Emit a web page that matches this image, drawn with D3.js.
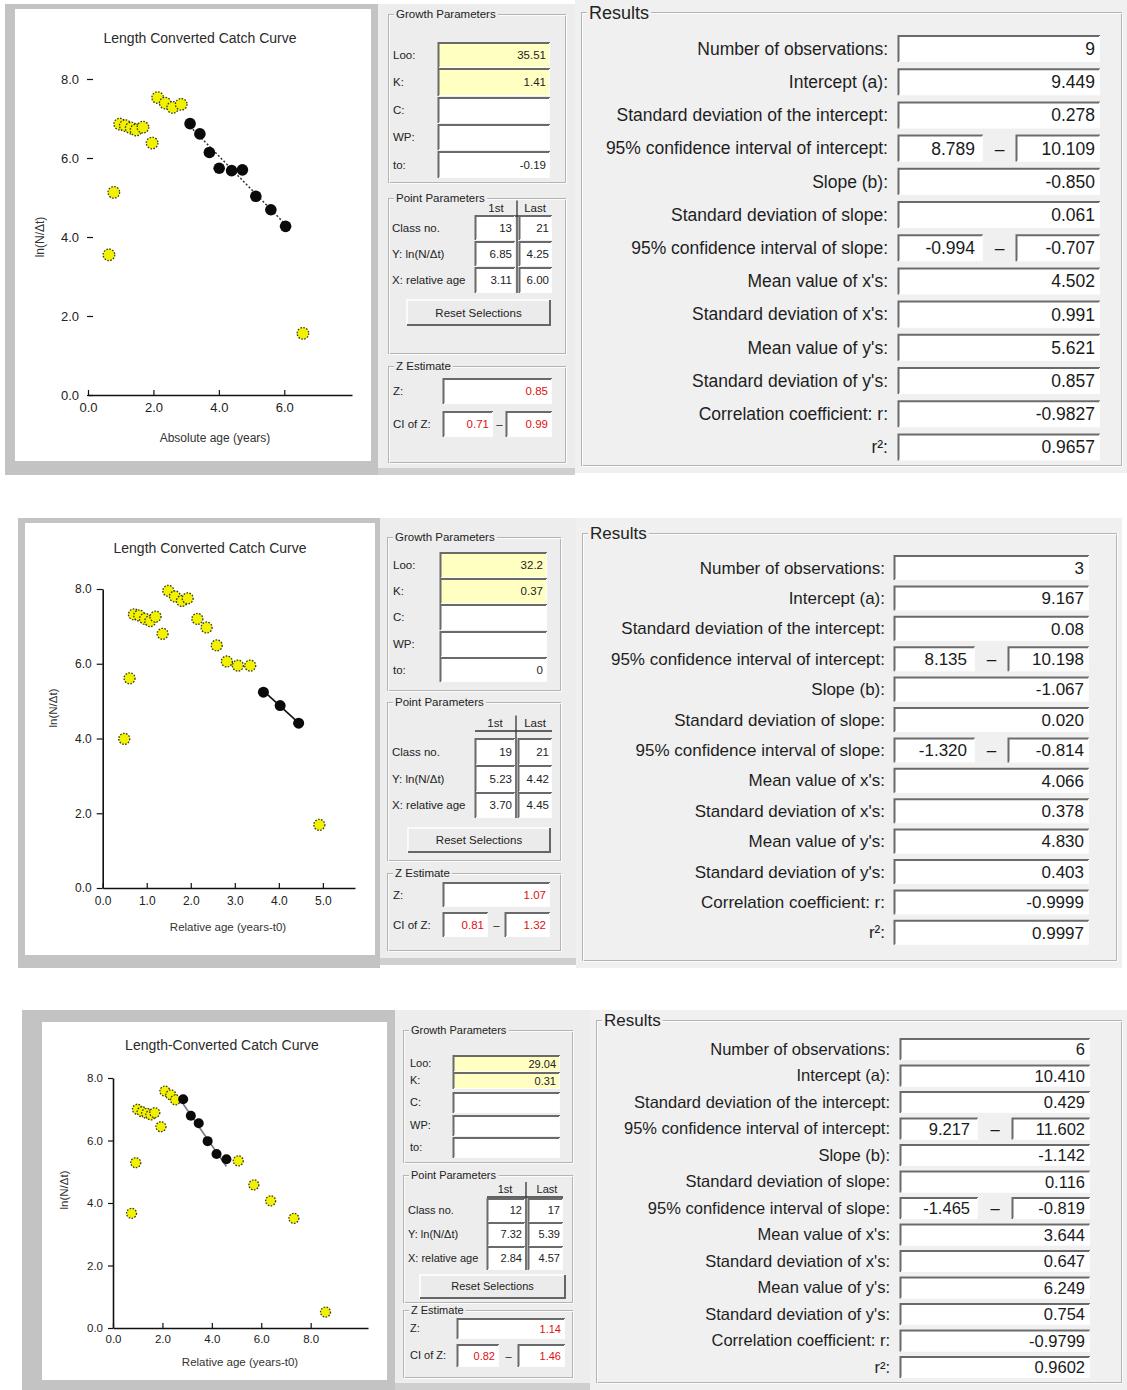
<!DOCTYPE html>
<html><head><meta charset="utf-8">
<script src="https://cdn.jsdelivr.net/npm/d3@7"></script>
<style>
body{margin:0;background:#fff}
svg text{font-family:"Liberation Sans",Arial,sans-serif}
</style>
</head><body>
<svg id="c" width="1127" height="1390"></svg>
<script>
// ---------------- DATA ----------------
const chart1YellowX = [0.64,0.79,0.97,1.14,1.32,1.47,1.68,1.96,2.13,2.36,2.59,2.85,6.57];
const chart1YellowY = [3.55,5.13,6.86,6.82,6.76,6.71,6.78,6.38,7.53,7.39,7.28,7.36,1.56];
const chart1BlackX  = [3.12,3.42,3.71,4.01,4.39,4.72,5.13,5.59,6.04];
const chart1BlackY  = [6.87,6.61,6.14,5.74,5.68,5.70,5.03,4.69,4.27];

const chart2YellowX = [0.49,0.61,0.71,0.83,0.96,1.08,1.20,1.36,1.49,1.64,1.80,1.93,2.15,2.36,2.59,2.82,3.07,3.35,4.92];
const chart2YellowY = [3.99,5.61,7.32,7.29,7.20,7.14,7.26,6.80,7.95,7.80,7.68,7.75,7.20,6.97,6.49,6.06,5.95,5.95,1.69];
const chart2BlackX  = [3.65,4.03,4.45];
const chart2BlackY  = [5.24,4.88,4.41];

const chart3YellowX = [0.75,0.92,0.99,1.18,1.36,1.53,1.69,1.94,2.10,2.34,2.53,5.07,5.70,6.38,7.32,8.60];
const chart3YellowY = [3.67,5.29,7.00,6.92,6.87,6.82,6.89,6.44,7.58,7.46,7.30,5.35,4.58,4.07,3.51,0.51];
const chart3BlackX  = [2.84,3.15,3.47,3.83,4.19,4.59];
const chart3BlackY  = [7.32,6.79,6.55,5.98,5.57,5.40];

const yTickValues = [0,2,4,6,8];
const xTicks1 = [0,2,4,6];
const xTicks2 = [0,1,2,3,4,5];
const xTicks3 = [0,2,4,6,8];

const chartTitles = ["Length Converted Catch Curve","Length Converted Catch Curve","Length-Converted Catch Curve"];
const xTitles = ["Absolute age (years)","Relative age (years-t0)","Relative age (years-t0)"];
const yTitle = "ln(N/\u0394t)";

const resultLabels = ["Number of observations:","Intercept (a):","Standard deviation of the intercept:","95% confidence interval of intercept:","Slope (b):","Standard deviation of slope:","95% confidence interval of slope:","Mean value of x's:","Standard deviation of x's:","Mean value of y's:","Standard deviation of y's:","Correlation coefficient: r:","r\u00B2:"];
const results1 = ["9","9.449","0.278",["8.789","10.109"],"-0.850","0.061",["-0.994","-0.707"],"4.502","0.991","5.621","0.857","-0.9827","0.9657"];
const results2 = ["3","9.167","0.08",["8.135","10.198"],"-1.067","0.020",["-1.320","-0.814"],"4.066","0.378","4.830","0.403","-0.9999","0.9997"];
const results3 = ["6","10.410","0.429",["9.217","11.602"],"-1.142","0.116",["-1.465","-0.819"],"3.644","0.647","6.249","0.754","-0.9799","0.9602"];

const growthLabels = ["Loo:","K:","C:","WP:","to:"];
const growth1 = ["35.51","1.41","","","-0.19"];
const growth2 = ["32.2","0.37","","","0"];
const growth3 = ["29.04","0.31","","",""];

const pointLabels = ["Class no.","Y: ln(N/\u0394t)","X: relative age"];
const points1 = [["13","21"],["6.85","4.25"],["3.11","6.00"]];
const points2 = [["19","21"],["5.23","4.42"],["3.70","4.45"]];
const points3 = [["12","17"],["7.32","5.39"],["2.84","4.57"]];

const zEst1 = ["0.85","0.71","0.99"];
const zEst2 = ["1.07","0.81","1.32"];
const zEst3 = ["1.14","0.82","1.46"];

// ---------------- HELPERS ----------------
const svg = d3.select("#c");
svg.append("rect").attr("width",1127).attr("height",1390).attr("fill","#fff");

function rect(g,x,y,w,h,fill,stroke){
  const r=g.append("rect").attr("x",x).attr("y",y).attr("width",w).attr("height",h).attr("fill",fill||"none");
  if(stroke) r.attr("stroke",stroke);
  return r;
}
function text(g,x,y,s,fs,anchor,color,weight){
  return g.append("text").attr("x",x).attr("y",y).attr("font-size",fs).attr("text-anchor",anchor||"start")
    .attr("fill",color||"#222").attr("font-weight",weight||"normal").text(s);
}
function sunken(g,x,y,w,h,fill){
  rect(g,x,y,w,h,fill||"#fff");
  g.append("path").attr("d",`M${x+0.5},${y+h}V${y+1}H${x+w}`).attr("fill","none").attr("stroke","#6a6a6a").attr("stroke-width",2);
  g.append("path").attr("d",`M${x+w-0.5},${y+1}V${y+h-0.5}H${x+1}`).attr("fill","none").attr("stroke","#fdfdfd").attr("stroke-width",1);
}
function groupBox(g,x,y,w,h,title,fs,bg){
  rect(g,x+0.5,y+0.5,w,h,"none","#b4b4b4");
  rect(g,x+1.5,y+1.5,w,h,"none","#ffffff").attr("stroke-opacity",0.8);
  const t=text(g,x+8,y+fs*0.38,title,fs,"start","#222");
  const bb=t.node().getBBox();
  g.insert("rect",()=>t.node()).attr("x",bb.x-2).attr("y",bb.y).attr("width",bb.width+4).attr("height",bb.height).attr("fill",bg);
}
function button(g,x,y,w,h,label,fs){
  rect(g,x,y,w,h,"#ebebeb");
  g.append("path").attr("d",`M${x},${y+h}V${y}H${x+w}`).attr("fill","none").attr("stroke","#fff").attr("stroke-width",1.5);
  g.append("path").attr("d",`M${x+w},${y}V${y+h}H${x}`).attr("fill","none").attr("stroke","#666").attr("stroke-width",2);
  text(g,x+w/2,y+h/2+fs*0.36,label,fs,"middle","#222");
}

// ---------------- CHART ----------------
function drawChart(p){
  const g=svg.append("g");
  rect(g,...p.frame,"#c3c3c3");
  rect(g,...p.inner,"#ffffff");
  text(g,p.titlePos[0],p.titlePos[1],p.title,p.titleFs,"middle","#2a2a2a");
  const x=d3.scaleLinear().domain([0,p.xMax]).range(p.xRange);
  const y=d3.scaleLinear().domain([0,8]).range(p.yRange);
  const ya=g.append("g").attr("transform",`translate(${p.yAxisX},0)`)
    .call(d3.axisLeft(y).tickValues(yTickValues).tickFormat(d3.format(".1f"))
      .tickSizeInner(p.yTick).tickSizeOuter(0).tickPadding(p.yPad));
  if(!p.yDomain) ya.select(".domain").remove();
  const xa=g.append("g").attr("transform",`translate(0,${y(0)})`)
    .call(d3.axisBottom(x).tickValues(p.xTicks).tickFormat(d3.format(".1f"))
      .tickSizeInner(-5).tickSizeOuter(0).tickPadding(p.xPad));
  [ya,xa].forEach(a=>{
    a.selectAll("text").attr("font-size",p.tickFs).attr("fill","#222").attr("font-family",null);
    a.selectAll("line").attr("stroke","#111").attr("stroke-width",1.2);
    a.select(".domain").attr("stroke","#111").attr("stroke-width",1.6);
  });
  text(g,p.xTitlePos[0],p.xTitlePos[1],p.xTitle,p.labFs,"middle","#333");
  text(g,0,0,yTitle,p.labFs,"middle","#333").attr("transform",`translate(${p.yTitlePos[0]},${p.yTitlePos[1]}) rotate(-90)`);
  const a=+p.res[1], b=+p.res[4];
  const bx=d3.extent(p.bx);
  g.append("line").attr("x1",x(bx[0])).attr("y1",y(a+b*bx[0])).attr("x2",x(bx[1])).attr("y2",y(a+b*bx[1]))
    .attr("stroke",p.lineColor).attr("stroke-width",p.lineW).attr("stroke-dasharray",p.lineDash||null);
  g.selectAll(null).data(d3.range(p.yx.length)).join("circle")
    .attr("cx",i=>x(p.yx[i])).attr("cy",i=>y(p.yy[i])).attr("r",p.r)
    .attr("fill","#f2f200").attr("stroke","#3a3a1a").attr("stroke-width",1.3).attr("stroke-dasharray","1.6,1.4");
  g.selectAll(null).data(d3.range(p.bx.length)).join("circle")
    .attr("cx",i=>x(p.bx[i])).attr("cy",i=>y(p.by[i])).attr("r",p.r).attr("fill","#0a0a0a");
}

// ---------------- CONTROLS ----------------
function drawControls(c,growth,points,z){
  const g=svg.append("g");
  const bg="#ededed";
  rect(g,...c.bg,bg);
  rect(g,c.bg[0],c.bg[1]+c.bg[3]-7,c.bg[2],7,"#cfcfcf");
  groupBox(g,...c.g1,"Growth Parameters",c.fs,bg);
  c.rows.forEach((r,i)=>{
    sunken(g,c.boxX[0],r[0],c.boxX[1]-c.boxX[0],r[1]-r[0],i<2?"#ffffc2":"#ffffff");
    text(g,c.labelX,(r[0]+r[1])/2+c.fs*0.36,growthLabels[i],c.fs,"start","#222");
    if(growth[i]) text(g,c.boxX[1]-4,(r[0]+r[1])/2+c.fs*0.38,growth[i],c.fs,"end","#222");
  });
  groupBox(g,...c.g2,"Point Parameters",c.fs,bg);
  text(g,c.hdr[0],c.hdrY,"1st",c.fs,"middle","#222");
  text(g,c.hdr[1],c.hdrY,"Last",c.fs,"middle","#222");
  g.append("line").attr("x1",c.sepX).attr("x2",c.sepX).attr("y1",c.hdrY-c.fs).attr("y2",c.prow[2][1])
    .attr("stroke","#333").attr("stroke-width",1.3);
  g.append("line").attr("x1",c.col1[0]).attr("x2",c.col2[1]).attr("y1",c.hdrY+4).attr("y2",c.hdrY+4).attr("stroke","#333").attr("stroke-width",1.3);
  c.prow.forEach((r,i)=>{
    text(g,c.plabelX,(r[0]+r[1])/2+c.fs*0.36,pointLabels[i],c.fs,"start","#222");
    [c.col1,c.col2].forEach((col,j)=>{
      sunken(g,col[0],r[0],col[1]-col[0],r[1]-r[0],"#fff");
      text(g,col[1]-3,(r[0]+r[1])/2+c.fs*0.38,points[i][j],c.fs,"end","#222");
    });
  });
  button(g,...c.btn,"Reset Selections",c.fs);
  groupBox(g,...c.g3,"Z Estimate",c.fs,bg);
  sunken(g,...c.zBox,"#fff");
  text(g,c.zBox[0]+c.zBox[2]-4,c.zBox[1]+c.zBox[3]/2+c.fs*0.38,z[0],c.fs,"end","#e01010");
  sunken(g,...c.ci1,"#fff");
  sunken(g,...c.ci2,"#fff");
  text(g,c.ci1[0]+c.ci1[2]-4,c.ci1[1]+c.ci1[3]/2+c.fs*0.38,z[1],c.fs,"end","#e01010");
  text(g,c.ci2[0]+c.ci2[2]-4,c.ci2[1]+c.ci2[3]/2+c.fs*0.38,z[2],c.fs,"end","#e01010");
  text(g,(c.ci1[0]+c.ci1[2]+c.ci2[0])/2,c.ci1[1]+c.ci1[3]/2+c.fs*0.38,"\u2013",c.fs,"middle","#222");
  text(g,c.labelX,c.zBox[1]+c.zBox[3]/2+c.fs*0.36,"Z:",c.fs,"start","#222");
  text(g,c.labelX,c.ci1[1]+c.ci1[3]/2+c.fs*0.36,"CI of Z:",c.fs,"start","#222");
}

// ---------------- RESULTS ----------------
function drawResults(r,vals){
  const g=svg.append("g");
  const bg="#f0f0f0";
  rect(g,...r.bg,bg);
  groupBox(g,r.bg[0]+6,r.title[1],r.bg[2]-12,r.bg[3]-r.title[1]+r.bg[1]-8,"Results",r.tfs,bg);
  resultLabels.forEach((lab,i)=>{
    const top=r.top+r.step*i, mid=top+r.h/2;
    text(g,r.labelRight,mid+r.fs*0.36,lab,r.fs,"end","#1e1e1e");
    const v=vals[i];
    if(Array.isArray(v)){
      sunken(g,r.ci[0],top,r.ci[1]-r.ci[0],r.h,"#fff");
      sunken(g,r.ci[2],top,r.ci[3]-r.ci[2],r.h,"#fff");
      text(g,r.ci[1]-8,mid+r.fs*0.37,v[0],r.fs,"end","#1a1a1a");
      text(g,r.ci[3]-5,mid+r.fs*0.37,v[1],r.fs,"end","#1a1a1a");
      text(g,(r.ci[1]+r.ci[2])/2,mid+r.fs*0.37,"\u2013",r.fs,"middle","#1a1a1a");
    } else {
      sunken(g,r.box[0],top,r.box[1]-r.box[0],r.h,"#fff");
      text(g,r.box[1]-5,mid+r.fs*0.37,v,r.fs,"end","#1a1a1a");
    }
  });
}

// ================= PANEL 1 =================
drawChart({frame:[5,4,373,471],inner:[15,9,356,452],title:chartTitles[0],titlePos:[200,43],titleFs:14,
  xMax:8.07,xRange:[88,352],yRange:[395,79],xTicks:xTicks1,yAxisX:93,yTick:6,yPad:8,yDomain:false,xPad:8,
  tickFs:13,labFs:12,xTitle:xTitles[0],xTitlePos:[215,442],yTitlePos:[44,237],
  yx:chart1YellowX,yy:chart1YellowY,bx:chart1BlackX,by:chart1BlackY,res:results1,
  lineColor:"#333",lineW:1.5,lineDash:"2,2",r:5.8});
drawControls({bg:[378,4,197,471],g1:[388,14,177,168],boxX:[438,550],
  rows:[[42,68],[68,96],[97,123],[124,150],[151,178]],labelX:393,
  g2:[388,198,177,155],hdrY:212,hdr:[496,535],sepX:517,col1:[475,515],col2:[519,552],
  prow:[[215,240],[241,266],[267,293]],plabelX:392,btn:[407,300,143,25],
  g3:[388,366,177,96],zBox:[443,378,109,26],ci1:[443,411,50,26],ci2:[506,411,46,26],fs:11.5},growth1,points1,zEst1);
drawResults({bg:[575,0,552,473],title:[589,12],tfs:18,top:35,step:33.2,h:27,box:[898,1100],ci:[898,983,1016,1100],
  labelRight:888,fs:17.5},results1);

// ================= PANEL 2 =================
drawChart({frame:[18,518,362,450],inner:[25,523,350,432],title:chartTitles[1],titlePos:[210,553],titleFs:14,
  xMax:5.73,xRange:[102.7,355],yRange:[888,589],xTicks:xTicks2,yAxisX:102.7,yTick:6,yPad:5,yDomain:true,xPad:8,
  tickFs:12,labFs:11.5,xTitle:xTitles[1],xTitlePos:[228,931],yTitlePos:[57,708],
  yx:chart2YellowX,yy:chart2YellowY,bx:chart2BlackX,by:chart2BlackY,res:results2,
  lineColor:"#111",lineW:1.6,r:5.5});
drawControls({bg:[380,518,196,447],g1:[387,537,173,153],boxX:[440,547],
  rows:[[552,578],[578,604],[604,630],[631,657],[657,682]],labelX:393,
  g2:[387,702,173,158],hdrY:727,hdr:[495,535],sepX:516,col1:[475,515],col2:[518,552],
  prow:[[738,765],[765,792],[792,818]],plabelX:392,btn:[408,828,142,24],
  g3:[387,873,173,77],zBox:[443,882,107,25],ci1:[443,912,45,25],ci2:[505,912,45,25],fs:11.5},growth2,points2,zEst2);
drawResults({bg:[576,518,546,450],title:[589,533],tfs:17,top:555,step:30.4,h:25,box:[894,1089],ci:[894,975,1008,1089],
  labelRight:885,fs:17},results2);

// ================= PANEL 3 =================
drawChart({frame:[22,1010,373,380],inner:[42,1022,345,358],title:chartTitles[2],titlePos:[222,1050],titleFs:14,
  xMax:10.32,xRange:[113,368],yRange:[1328,1078],xTicks:xTicks3,yAxisX:113,yTick:5,yPad:5,yDomain:true,xPad:7,
  tickFs:11.5,labFs:11.5,xTitle:xTitles[2],xTitlePos:[240,1366],yTitlePos:[68,1190],
  yx:chart3YellowX,yy:chart3YellowY,bx:chart3BlackX,by:chart3BlackY,res:results3,
  lineColor:"#7a7a8a",lineW:1.6,r:5});
drawControls({bg:[395,1010,195,380],g1:[403,1030,169,132],boxX:[453,560],
  rows:[[1055,1072],[1072,1089],[1092,1113],[1115,1136],[1137,1158]],labelX:410,
  g2:[403,1175,169,127],hdrY:1193,hdr:[505,547],sepX:526,col1:[487,525],col2:[528,563],
  prow:[[1198,1222],[1222,1246],[1246,1270]],plabelX:408,btn:[420,1275,145,23],
  g3:[403,1310,169,67],zBox:[457,1318,108,21],ci1:[457,1344,42,23],ci2:[518,1344,47,23],fs:11},growth3,points3,zEst3);
drawResults({bg:[590,1010,537,380],title:[606,1020],tfs:17,top:1038,step:26.5,h:22,box:[900,1090],ci:[900,978,1012,1090],
  labelRight:890,fs:16.5},results3);
</script>
</body></html>
